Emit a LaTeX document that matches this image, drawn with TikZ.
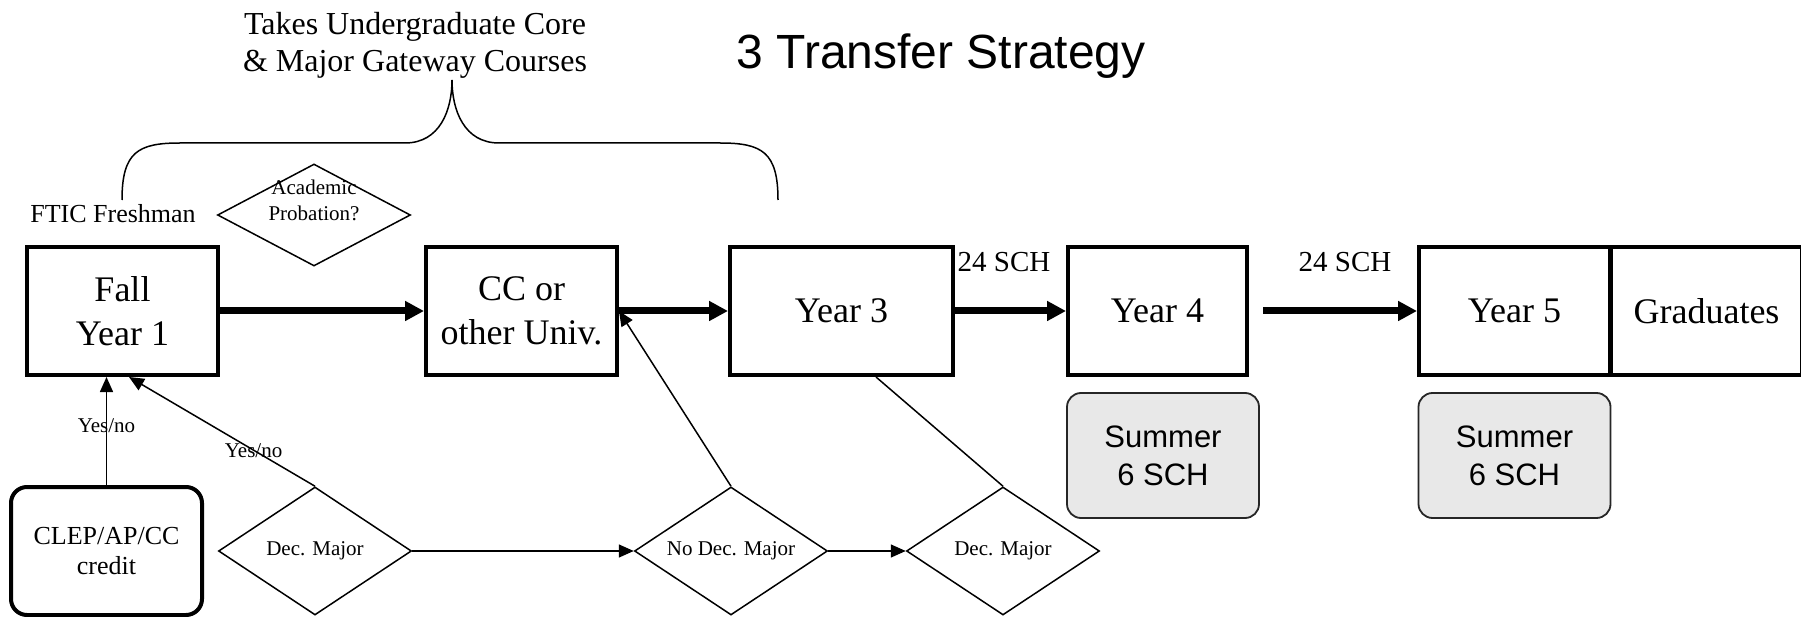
\documentclass[tikz,border=0pt]{standalone}
\usepackage{fontspec}
\setmainfont{Liberation Serif}
\setsansfont{Liberation Sans}
\usetikzlibrary{arrows.meta,positioning,shapes.geometric,calc}
\tikzset{
    box style/.style={draw,line width=4pt,minimum width=191pt,minimum height=128pt,inner sep=0pt,align=center,font=\fontsize{36}{44}\selectfont},
    clep box/.style={box style,rounded corners=16pt,font=\fontsize{26}{30}\selectfont},
    decision/.style={draw,diamond,shape aspect=1.9,line width=1.5pt,minimum width=193pt,minimum height=128pt,inner sep=0pt,align=center,font=\fontsize{21}{26}\selectfont},
    summer box/.style={draw=black!85,fill=black!9,line width=1.8pt,rounded corners=14pt,minimum width=192pt,minimum height=125pt,inner sep=0pt,align=center,font=\sffamily\fontsize{31}{38}\selectfont},
    thick arr/.style={-{Triangle[length=19pt,width=19pt]},line width=7pt},
    arr/.style={-{Triangle[length=15pt,width=13pt]},line width=1.5pt},
    plain/.style={line width=1.5pt},
    small label/.style={font=\fontsize{21}{26}\selectfont,inner sep=0pt},
    sch label/.style={font=\fontsize{29}{34}\selectfont,anchor=base,inner sep=0pt},
}

\begin{document}
\begin{tikzpicture}[x=1pt,y=-1pt]
    \useasboundingbox (0,0) rectangle (1801,617);
    \clip (0,0) rectangle (1801,617);

    \node[anchor=base,inner sep=0pt,font=\sffamily\fontsize{48}{54}\selectfont] (title) at (941,69) {3 Transfer Strategy};
    \node[align=center,inner sep=0pt,font=\fontsize{32}{37}\selectfont] (takes) at (415,45) {Takes Undergraduate Core\\\& Major Gateway Courses};
    \draw[plain] (122,200) .. controls (122,152) and (138,143) .. (180,143) -- (405,143)
        .. controls (440,143) and (452,110) .. (452,80)
        .. controls (452,110) and (464,143) .. (499,143) -- (720,143)
        .. controls (762,143) and (778,152) .. (778,200);
    \node[anchor=base,inner sep=0pt,font=\fontsize{26}{30}\selectfont] (ftic) at (113,223) {FTIC Freshman};

    \node[box style] (fall) at (122.5,311) {Fall\\Year 1};
    \node[box style] (cc) at (521.5,311) {CC or\\other Univ.};
    \node[box style,minimum width=223pt] (yr3) at (841.5,311) {Year 3};
    \node[box style,minimum width=179pt] (yr4) at (1157.5,311) {Year 4};
    \node[box style] (yr5) at (1514.5,311) {Year 5};
    \node[box style] (grad) at (1706.5,311) {Graduates};
    \node[decision,minimum height=102pt] (acad) at (314,215) {};
    \node[small label,align=center] (acad text) at ([yshift=15pt]acad.center) {Academic\\Probation?};

    \node[summer box] (sum4) at (1163,455.5) {Summer\\6 SCH};
    \node[summer box] (sum5) at (1514.5,455.5) {Summer\\6 SCH};

    \node[clep box] (clep) at (106.5,551) {CLEP/AP/CC\\credit};
    \node[decision] (dec1) at (315,551) {Dec. Major};
    \node[decision] (nodec) at (731,551) {No Dec. Major};
    \node[decision] (dec2) at (1003,551) {Dec. Major};

    \node[sch label] (sch1) at (1004,272) {24 SCH};
    \node[sch label] (sch2) at (1345,272) {24 SCH};

    \coordinate (yr4 out) at (1263,311);
    \coordinate (yn tip) at (129,377);

    \draw[thick arr] (fall) -- (cc);
    \draw[thick arr] (cc) -- (yr3);
    \draw[thick arr] (yr3) -- (yr4);
    \draw[thick arr] (yr4 out) -- (yr5);

    \draw[arr] (clep.north) -- (clep.north |- fall.south)
        node[small label,pos=.55] {Yes/no};
    \draw[arr] (dec1.north) -- (yn tip)
        node[small label,pos=.33] {Yes/no};
    \draw[arr] (nodec.north) -- (cc.east);
    \draw[plain] ([xshift=34.5pt]yr3.south) -- (dec2.north);
    \draw[arr] (dec1) -- (nodec);
    \draw[arr] (nodec) -- (dec2);
\end{tikzpicture}
\end{document}
